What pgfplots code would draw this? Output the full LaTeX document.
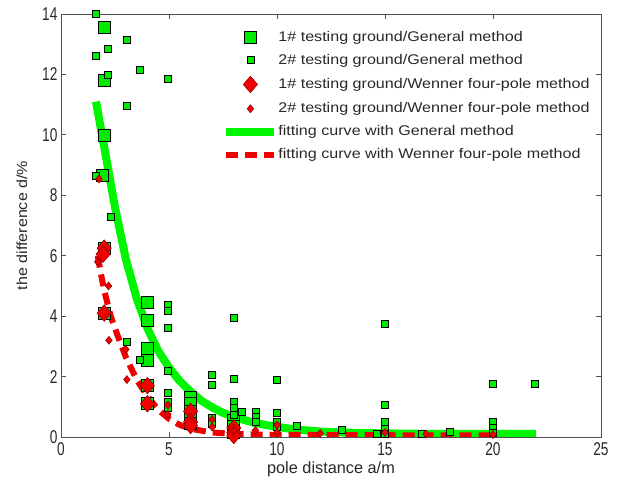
\documentclass[border=0pt]{standalone}
\usepackage{fontspec}
\setmainfont{Liberation Sans}
\newfontfamily\tickfont{Liberation Sans}[FakeStretch=0.74]
\newfontfamily\legfont{Liberation Sans}[FakeStretch=1.15]
\newfontfamily\ylabfont{Liberation Sans}[FakeStretch=1.1]
\usepackage{pgfplots}
\pgfplotsset{compat=1.18}
\definecolor{mgreen}{RGB}{0,235,0}
\definecolor{lgreen}{RGB}{0,245,0}
\definecolor{mred}{RGB}{240,0,0}
\definecolor{dred}{RGB}{140,0,0}
\definecolor{axgray}{RGB}{80,80,80}
\definecolor{txt}{RGB}{40,40,40}
\begin{document}
\begin{tikzpicture}
\pgfplotsset{myleg/.style={legend image code/.code={%
  \draw[mark repeat=2,mark phase=2,##1] plot coordinates {(0pt,0pt) (24pt,0pt) (48pt,0pt)};
  \path[draw=none, fill=none] (0pt,-6pt) rectangle (52pt,6pt);}}}
\begin{axis}[
  scale only axis, width=540pt, height=423pt,
  xmin=0, xmax=25, ymin=0, ymax=14,
  xtick={0,5,...,25}, ytick={0,2,...,14},
  tick align=inside, major tick length=5pt,
  axis line style={axgray, line width=0.8pt},
  every tick/.style={axgray, line width=0.8pt},
  /pgf/number format/assume math mode=true,
  tick label style={font=\tickfont\fontsize{18.5}{20}\selectfont, text=txt},
  xticklabel style={yshift=-2pt},
  yticklabel style={xshift=0pt},
  xlabel={pole distance a/m},
  ylabel={the difference d/\%},
  xlabel style={font=\fontsize{16.3}{18}\selectfont, text=txt, yshift=1pt},
  ylabel style={font=\ylabfont\fontsize{14.6}{17}\selectfont, text=txt, yshift=8pt},
  legend style={draw=none, fill=none, at={(0.293,0.967)}, anchor=north west,
    font=\legfont\fontsize{14}{16}\selectfont, text=txt, row sep=9pt,
    nodes={inner sep=0pt, text height=11pt, text depth=3pt}},
  legend cell align=left,
]
\addplot[only marks, mark=square*, mark size=6pt, mark options={fill=mgreen, draw=black, line width=0.6pt}, myleg] coordinates {
(2,13.55) (2,11.8) (2,10.0) (1.9,8.65) (2,6.25) (2,4.1)
(4,4.45) (4,3.85) (4,2.95) (4,2.55) (4,1.7) (4,1.1)
(6,1.3) (6,1.1) (6,0.85) (6,0.65) (6,0.45)
(8,0.55) (8,0.35) (8,0.15)
};
\addlegendentry{1\# testing ground/General method}
\addplot[only marks, mark=square*, mark size=3.5pt, mark options={fill=mgreen, draw=black, line width=0.6pt}, myleg] coordinates {
(1.62,14.0) (1.62,12.6) (2.18,12.85) (2.18,12.0) (3.05,13.15) (3.66,12.15)
(4.95,11.85) (3.05,10.96) (1.62,8.64) (2.3,7.3) (3.05,3.15) (3.66,2.55)
(4.95,4.37) (4.95,4.17) (4.95,3.6) (4.95,2.2) (4.95,1.45) (4.95,1.16) (4.95,0.95)
(7,2.05) (7,1.72) (7,0.62) (7,0.45)
(8,3.93) (8,1.94) (8,1.16) (8,0.97) (8,0.75) (8.35,0.83)
(9,0.83) (9,0.66) (9,0.5)
(10,1.9) (10,0.8) (10,0.5) (10,0.35) (10.9,0.38)
(13,0.25) (14.6,0.12)
(15,3.74) (15,1.08) (15,0.5) (15,0.28) (15,0.12)
(16.7,0.12) (18,0.17)
(20,1.76) (20,0.5) (20,0.32) (20,0.15) (21.95,1.76)
};
\addlegendentry{2\# testing ground/General method}
\addplot[only marks, mark=diamond*, mark size=8.3pt, mark options={fill=mred, draw=dred, line width=0.5pt, xscale=1.15}, myleg] coordinates {
(2,6.25) (1.95,6.05) (2,4.1) (4,1.7) (4,1.1)
(6,0.85) (6,0.5) (6,0.38) (8,0.3) (8,0.15) (8,0.05)
};
\addlegendentry{1\# testing ground/Wenner four-pole method}
\addplot[only marks, mark=diamond*, mark size=4pt, mark options={fill=mred, draw=dred, line width=0.5pt, xscale=1.1}, myleg] coordinates {
(1.76,8.54) (1.7,5.8) (2.2,5.0) (2.22,3.2) (3.0,2.9) (3.05,1.9)
(4.95,1.06) (4.95,0.75) (7,0.58) (7,0.33) (8,0.2) (9,0.22)
(10,0.4) (10,0.15) (12,0.12) (15,0.15) (16.9,0.1) (20,0.08)
};
\addlegendentry{2\# testing ground/Wenner four-pole method}
\addplot[lgreen, line width=8pt, no marks, myleg] coordinates {
(1.62,11.1) (2,9.6) (2.5,7.6) (3,5.9) (3.5,4.6) (4,3.6) (4.5,2.85) (5,2.3)
(5.5,1.85) (6,1.5) (6.5,1.2) (7,0.98) (7.5,0.8) (8,0.66) (9,0.46) (10,0.33)
(11,0.24) (12,0.18) (13,0.15) (14,0.13) (16,0.11) (18,0.1) (20,0.1) (22,0.1)
};
\addlegendentry{fitting curve with General method}
\addplot[mred, line width=6pt, dash pattern=on 12pt off 7pt, no marks, myleg] coordinates {
(1.7,6.0) (1.85,5.4) (2,4.85) (2.3,4.0) (2.6,3.4) (3,2.65) (3.5,1.9) (4,1.35)
(4.5,0.9) (5,0.6) (5.5,0.4) (6,0.27) (7,0.15) (8,0.1) (10,0.07) (14,0.06) (20,0.05)
};
\addlegendentry{fitting curve with Wenner four-pole method}
\end{axis}
\path (current axis.south west) ++(-61pt,-49pt) rectangle ++(619pt,486pt);
\end{tikzpicture}
\end{document}
